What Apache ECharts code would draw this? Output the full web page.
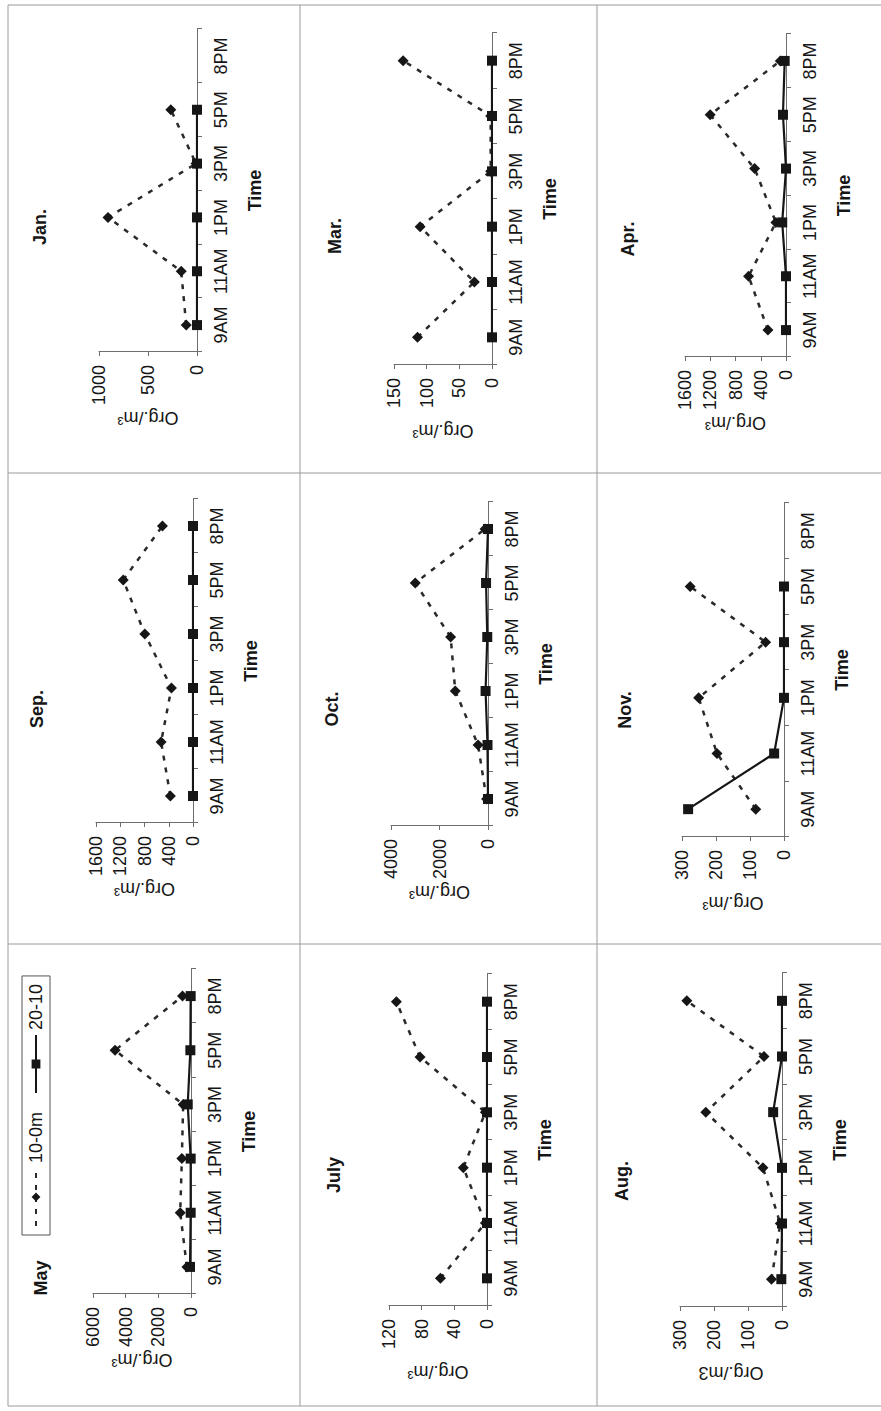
<!DOCTYPE html>
<html>
<head>
<meta charset="utf-8">
<title>Diel abundance by depth layer</title>
<script src="https://cdn.jsdelivr.net/npm/echarts@6/dist/echarts.min.js"></script>
<style>
  html, body { margin: 0; padding: 0; background: #fff; overflow: hidden; }
  /* The landscape sheet (1411 x 881) is turned a quarter turn counter-clockwise
     so it fills the portrait page. */
  #sheet {
    position: absolute; left: 0; top: 0;
    width: 1411px; height: 881px;
    transform-origin: 0 0;
    transform: translate(0, 1411px) rotate(-90deg);
    background: #fff;
  }
</style>
</head>
<body>
<div id="sheet"></div>
<script>
// ---- data -------------------------------------------------------------
const times = ['9AM', '11AM', '1PM', '3PM', '5PM', '8PM'];
const layerNames = ['10-0m', '20-10'];

// Org./m3 per sampling time; "-" = not sampled
const may_0_10   = [250, 660, 560, 480, 4650, 520];
const may_10_20  = [60, 20, 20, 200, 40, 20];
const july_0_10  = [57, 2, 29, 2, 82, 111];
const july_10_20 = [0, 0, 0, 0, 0, 0];
const aug_0_10   = [31, 5, 56, 224, 53, 280];
const aug_10_20  = [2, 0, 0, 26, 0, 0];
const sep_0_10   = [373, 526, 356, 795, 1151, 504];
const sep_10_20  = [0, 0, 0, 0, 0, 0];
const oct_0_10   = [60, 410, 1350, 1540, 3000, 120];
const oct_10_20  = [0, 20, 100, 30, 80, 0];
const nov_0_10   = [83, 197, 251, 54, 276, '-'];
const nov_10_20  = [282, 29, 0, 0, 0, '-'];
const jan_0_10   = [110, 161, 908, 10, 267, '-'];
const jan_10_20  = [0, 0, 0, 0, 0, '-'];
const mar_0_10   = [114, 27, 110, 2, 2, 136];
const mar_10_20  = [0, 0, 0, 0, 0, 0];
const apr_0_10   = [286, 593, 160, 497, 1201, 90];
const apr_10_20  = [0, 0, 60, 0, 48, 21];

// value-axis ranges
const axisMax  = [6000, 120, 300, 1600, 4000, 300, 1000, 150, 1600];
const axisStep = [2000, 40, 100, 400, 2000, 100, 500, 50, 400];

// ---- panel table --------------------------------------------------------
// grid: [left, top, width, height] in sheet pixels; title centre and top
const panels = [
  { name: 'May',  unit: 'Org./m\u00b3', a: may_0_10,  b: may_10_20,  grid: [117, 93, 325, 98],   tx: 133,  ty: 32 },
  { name: 'July', unit: 'Org./m\u00b3', a: july_0_10, b: july_10_20, grid: [105, 389, 332, 98],  tx: 236,  ty: 325 },
  { name: 'Aug.', unit: 'Org./m3',      a: aug_0_10,  b: aug_10_20,  grid: [104, 680, 334, 102], tx: 230,  ty: 613 },
  { name: 'Sep.', unit: 'Org./m\u00b3', a: sep_0_10,  b: sep_10_20,  grid: [588, 96, 324, 97],   tx: 702,  ty: 28 },
  { name: 'Oct.', unit: 'Org./m\u00b3', a: oct_0_10,  b: oct_10_20,  grid: [585, 391, 324, 97],  tx: 702,  ty: 323 },
  { name: 'Nov.', unit: 'Org./m\u00b3', a: nov_0_10,  b: nov_10_20,  grid: [574, 682, 334, 102], tx: 701,  ty: 616 },
  { name: 'Jan.', unit: 'Org./m\u00b3', a: jan_0_10,  b: jan_10_20,  grid: [1059, 99, 323, 98],  tx: 1184, ty: 31 },
  { name: 'Mar.', unit: 'Org./m\u00b3', a: mar_0_10,  b: mar_10_20,  grid: [1046, 394, 332, 98], tx: 1175, ty: 326 },
  { name: 'Apr.', unit: 'Org./m\u00b3', a: apr_0_10,  b: apr_10_20,  grid: [1054, 685, 323, 101], tx: 1172, ty: 619 }
];

// ---- styling ------------------------------------------------------------
const FONT = 'Arial, Liberation Sans, sans-serif';
const INK = '#161616';
const AXIS = '#6e6e6e';
const RULE = '#9a9a9a';
const FS = 18;

const chart = echarts.init(document.getElementById('sheet'), null, { renderer: 'svg' });

const option = {
  animation: false,
  backgroundColor: '#fff',
  textStyle: { fontFamily: FONT, color: INK },
  title: panels.map(p => ({
    text: p.name,
    left: p.tx,
    top: p.ty,
    padding: 0,
    textAlign: 'center',
    textStyle: { fontFamily: FONT, fontSize: FS, fontWeight: 'bold', color: INK }
  })),
  legend: {
    data: layerNames,
    left: 176,
    top: 22,
    padding: [5, 8],
    itemGap: 18,
    itemWidth: 58,
    itemHeight: 11,
    borderColor: '#555',
    borderWidth: 1,
    selectedMode: false,
    textStyle: { fontFamily: FONT, fontSize: FS, color: INK }
  },
  grid: panels.map(p => ({
    left: p.grid[0], top: p.grid[1], width: p.grid[2], height: p.grid[3],
    containLabel: false
  })),
  xAxis: panels.map((p, i) => ({
    gridIndex: i,
    type: 'category',
    data: times,
    boundaryGap: true,
    name: 'Time',
    nameLocation: 'middle',
    nameGap: 49,
    nameTextStyle: { fontFamily: FONT, fontSize: FS, fontWeight: 'bold', color: INK },
    axisLine: { lineStyle: { color: AXIS, width: 1 } },
    axisTick: { show: true, length: 5, lineStyle: { color: AXIS } },
    axisLabel: { fontFamily: FONT, fontSize: FS, color: INK, margin: 15, interval: 0 },
    splitLine: { show: false }
  })),
  yAxis: panels.map((p, i) => ({
    gridIndex: i,
    type: 'value',
    min: 0,
    max: axisMax[i],
    interval: axisStep[i],
    name: p.unit,
    nameLocation: 'middle',
    nameGap: 57,
    nameRotate: 90,
    nameTextStyle: { fontFamily: FONT, fontSize: FS, color: INK },
    axisLine: { show: true, lineStyle: { color: AXIS, width: 1 } },
    axisTick: { show: true, length: 4, lineStyle: { color: AXIS } },
    axisLabel: {
      fontFamily: FONT, fontSize: FS, color: INK, margin: 13,
      formatter: v => String(v)
    },
    splitLine: { show: false }
  })),
  series: panels.flatMap((p, i) => [
    {
      name: layerNames[0],
      type: 'line',
      xAxisIndex: i, yAxisIndex: i,
      data: p.a,
      symbol: 'diamond',
      symbolSize: 11,
      showAllSymbol: true,
      connectNulls: false,
      z: 2,
      itemStyle: { color: INK },
      lineStyle: { color: '#2a2a2a', width: 2.5, type: [5, 7] }
    },
    {
      name: layerNames[1],
      type: 'line',
      xAxisIndex: i, yAxisIndex: i,
      data: p.b,
      symbol: 'rect',
      symbolSize: 10,
      showAllSymbol: true,
      connectNulls: false,
      z: 3,
      itemStyle: { color: INK },
      lineStyle: { color: INK, width: 2.2 }
    }
  ]),
  // panel frame rules
  graphic: [
    [5, 8, 5, 881], [467, 8, 467, 881], [938, 8, 938, 881], [1406, 8, 1406, 881],
    [5, 8, 1406, 8], [5, 300, 1406, 300], [5, 597, 1406, 597]
  ].map(s => ({
    type: 'line',
    silent: true,
    shape: { x1: s[0], y1: s[1], x2: s[2], y2: s[3] },
    style: { stroke: RULE, lineWidth: 1 }
  }))
};

chart.setOption(option);
</script>
</body>
</html>
